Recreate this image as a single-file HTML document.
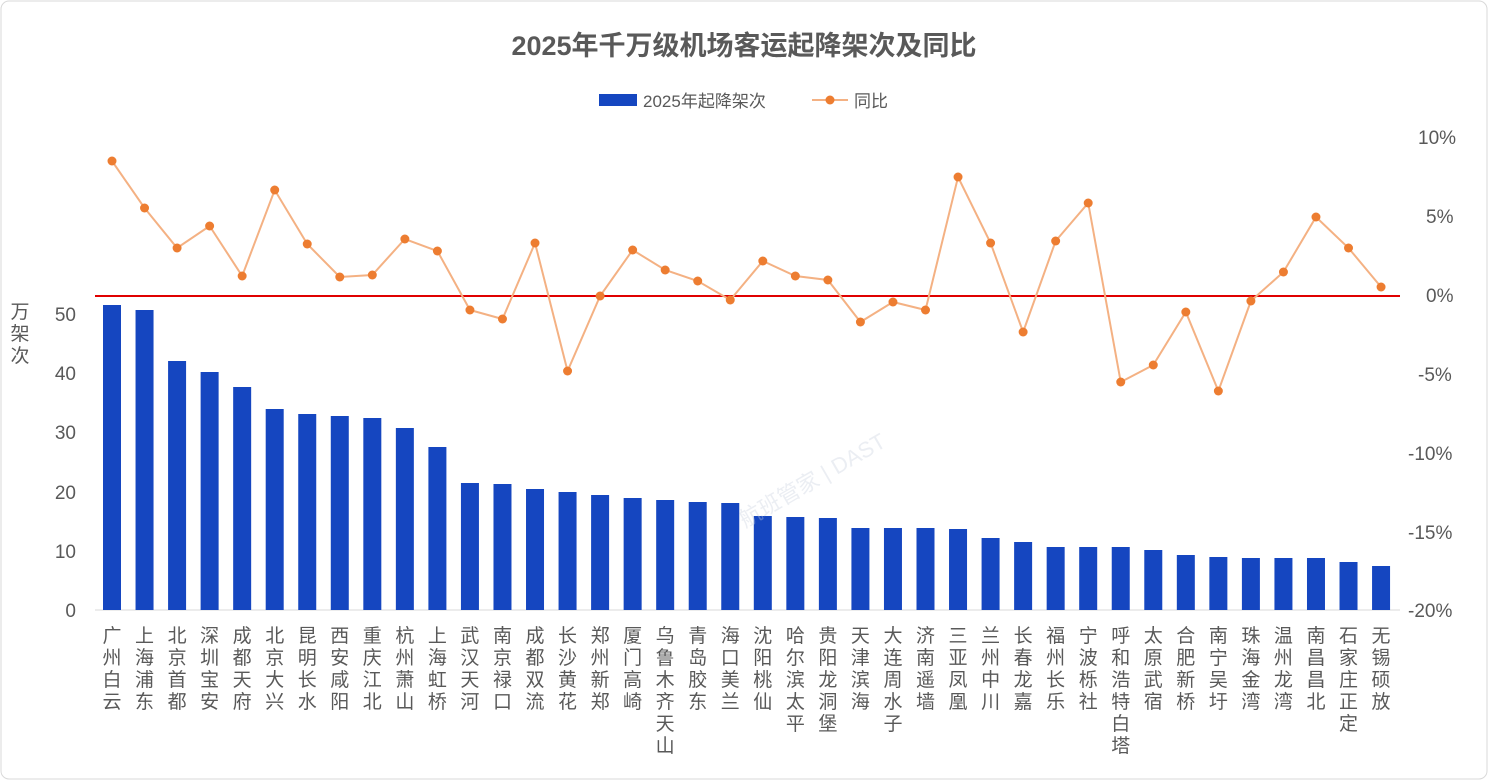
<!DOCTYPE html>
<html><head><meta charset="utf-8"><style>
html,body{margin:0;padding:0;background:#fff}
svg{display:block}
text{font-family:"Liberation Sans","Noto Sans CJK SC",sans-serif}
</style></head><body>
<svg width="1488" height="780" viewBox="0 0 1488 780" xmlns="http://www.w3.org/2000/svg">
<rect x="1" y="1" width="1486" height="778" rx="8" fill="#fff" stroke="#d9d9d9"/>
<text x="744" y="55" text-anchor="middle" font-size="27" font-weight="bold" fill="#595959">2025年千万级机场客运起降架次及同比</text>
<rect x="599" y="94" width="38" height="12" fill="#1546c0"/>
<text x="643" y="107" font-size="17" fill="#595959">2025年起降架次</text>
<line x1="812" y1="100" x2="848" y2="100" stroke="#f4b183" stroke-width="2"/>
<circle cx="830" cy="100" r="4.5" fill="#ed7d31"/>
<text x="854" y="107" font-size="17" fill="#595959">同比</text>
<g font-size="19" fill="#595959" text-anchor="end">
<text x="76" y="617">0</text><text x="76" y="558">10</text><text x="76" y="499">20</text><text x="76" y="439">30</text><text x="76" y="380">40</text><text x="76" y="321">50</text>
</g>
<g font-size="19" fill="#595959">
<text x="1418" y="144">10%</text><text x="1426" y="223">5%</text><text x="1426" y="302">0%</text><text x="1418" y="381">-5%</text><text x="1408" y="460">-10%</text><text x="1408" y="539">-15%</text><text x="1408" y="617">-20%</text>
</g>
<g font-size="19" fill="#595959" text-anchor="middle"><text x="20" y="318">万</text><text x="20" y="340">架</text><text x="20" y="362">次</text></g>
<line x1="95" y1="610" x2="1400" y2="610" stroke="#d9d9d9"/>
<g id="bars" fill="#1546c0"></g>
<line x1="95" y1="296" x2="1400" y2="296" stroke="#e00000" stroke-width="2"/>
<polyline id="ln" fill="none" stroke="#f4b183" stroke-width="2"/>
<g id="dots" fill="#ed7d31"></g>
<g id="labs" font-size="19" fill="#595959" text-anchor="middle"></g>
<text x="745" y="528" font-size="22" fill="#c8cfdd" opacity="0.35" transform="rotate(-30 745 528)">航班管家 | DAST</text>
</svg>
<script>
var names=["广州白云","上海浦东","北京首都","深圳宝安","成都天府","北京大兴","昆明长水","西安咸阳","重庆江北","杭州萧山","上海虹桥","武汉天河","南京禄口","成都双流","长沙黄花","郑州新郑","厦门高崎","乌鲁木齐天山","青岛胶东","海口美兰","沈阳桃仙","哈尔滨太平","贵阳龙洞堡","天津滨海","大连周水子","济南遥墙","三亚凤凰","兰州中川","长春龙嘉","福州长乐","宁波栎社","呼和浩特白塔","太原武宿","合肥新桥","南宁吴圩","珠海金湾","温州龙湾","南昌昌北","石家庄正定","无锡硕放"];
var tops=[305,310,361,372,387,409,414,416,418,428,447,483,484,489,492,495,498,500,502,503,516,517,518,528,528,528,529,538,542,547,547,547,550,555,557,558,558,558,562,566];
var ly=[161,208,248,226,276,190,244,277,275,239,251,310,319,243,371,296,250,270,281,300,261,276,280,322,302,310,177,243,332,241,203,382,365,312,391,301,272,217,248,287];
var ns="http://www.w3.org/2000/svg",b=document.getElementById("bars"),d=document.getElementById("dots"),l=document.getElementById("labs"),pts=[];
for(var i=0;i<40;i++){var x=112+i*32.54;
var r=document.createElementNS(ns,"rect");r.setAttribute("x",x-9);r.setAttribute("y",tops[i]);r.setAttribute("width",18);r.setAttribute("height",610-tops[i]);b.appendChild(r);
var c=document.createElementNS(ns,"circle");c.setAttribute("cx",x);c.setAttribute("cy",ly[i]);c.setAttribute("r",4.5);d.appendChild(c);pts.push(x+","+ly[i]);
for(var j=0;j<names[i].length;j++){var t=document.createElementNS(ns,"text");t.setAttribute("x",x);t.setAttribute("y",642+j*22);t.textContent=names[i][j];l.appendChild(t);}}
document.getElementById("ln").setAttribute("points",pts.join(" "));
</script>
</body></html>
